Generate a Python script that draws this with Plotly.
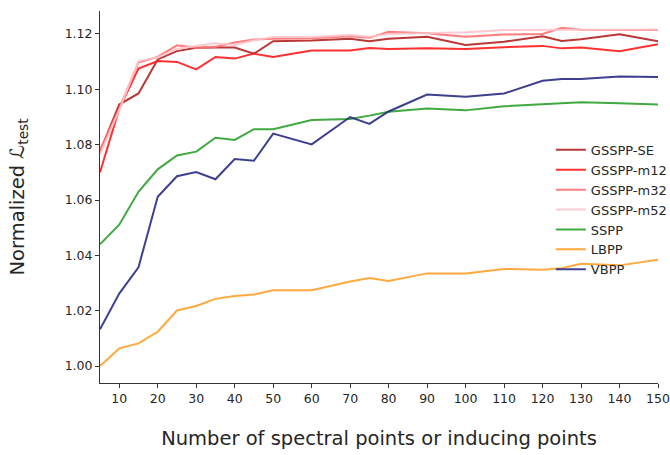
import plotly.graph_objects as go

# Number of spectral / inducing points
n_points = [5, 10, 15, 20, 25, 30, 35, 40, 45, 50, 60, 70, 75, 80, 90, 100, 110, 120, 125, 130, 140, 150]

# Normalized test loss per method
gsspp_se = [1.0775, 1.0945, 1.0985, 1.1108, 1.1138, 1.1150, 1.1151, 1.1151, 1.1129, 1.1174,
            1.1176, 1.1183, 1.1174, 1.1183, 1.1190, 1.1160, 1.1172, 1.1192, 1.1175, 1.1181, 1.1199, 1.1174]
gsspp_m12 = [1.0700, 1.0930, 1.1075, 1.1102, 1.1099, 1.1072, 1.1117, 1.1111, 1.1129, 1.1117,
             1.1140, 1.1140, 1.1149, 1.1146, 1.1148, 1.1146, 1.1152, 1.1157, 1.1148, 1.1151, 1.1138, 1.1163]
gsspp_m32 = [1.0780, 1.0930, 1.1097, 1.1117, 1.1159, 1.1150, 1.1153, 1.1169, 1.1180, 1.1183,
             1.1185, 1.1192, 1.1186, 1.1208, 1.1203, 1.1190, 1.1198, 1.1200, 1.1222, 1.1215, 1.1214, 1.1214]
gsspp_m52 = [1.0765, 1.0925, 1.1102, 1.1115, 1.1147, 1.1156, 1.1166, 1.1160, 1.1177, 1.1189,
             1.1189, 1.1196, 1.1190, 1.1200, 1.1202, 1.1206, 1.1214, 1.1215, 1.1213, 1.1214, 1.1215, 1.1216]
sspp = [1.0440, 1.0511, 1.0630, 1.0711, 1.0761, 1.0775, 1.0825, 1.0817, 1.0856, 1.0856,
        1.0889, 1.0893, 1.0905, 1.0919, 1.0931, 1.0924, 1.0939, 1.0945, 1.0949, 1.0953, 1.0950, 1.0945]
lbpp = [1.0000, 1.0064, 1.0082, 1.0124, 1.0201, 1.0217, 1.0243, 1.0253, 1.0259, 1.0274,
        1.0274, 1.0306, 1.0318, 1.0308, 1.0335, 1.0335, 1.0351, 1.0348, 1.0354, 1.0370, 1.0364, 1.0384]
vbpp = [1.0133, 1.0262, 1.0357, 1.0612, 1.0686, 1.0701, 1.0675, 1.0748, 1.0742, 1.0840,
        1.0801, 1.0900, 1.0875, 1.0920, 1.0981, 1.0973, 1.0985, 1.1031, 1.1037, 1.1037, 1.1046, 1.1045]

series = [
    ("GSSPP-SE", gsspp_se, "#b22222"),
    ("GSSPP-m12", gsspp_m12, "#ff1a1a"),
    ("GSSPP-m32", gsspp_m32, "#ff6f6f"),
    ("GSSPP-m52", gsspp_m52, "#ffc4ca"),
    ("SSPP", sspp, "#2ca02c"),
    ("LBPP", lbpp, "#ffa02a"),
    ("VBPP", vbpp, "#2b2b83"),
]

x_ticks = list(range(10, 151, 10))
y_ticks = [1.00, 1.02, 1.04, 1.06, 1.08, 1.10, 1.12]

fig = go.Figure()
for name, vals, color in series:
    fig.add_trace(go.Scatter(
        x=n_points, y=vals, mode="lines", name=name,
        line=dict(color=color, width=2), opacity=0.9,
    ))

font_family = "DejaVu Sans"
axis_color = "#333333"
text_color = "#262626"

fig.update_layout(
    width=670, height=455,
    margin=dict(l=100, r=12, t=11, b=72, autoexpand=False),
    paper_bgcolor="white", plot_bgcolor="white",
    font=dict(family=font_family, size=13, color=text_color),
    showlegend=True,
    legend=dict(
        x=0.808, y=0.667, xanchor="left", yanchor="top",
        bgcolor="rgba(0,0,0,0)", borderwidth=0,
        font=dict(size=13, color=text_color),
        tracegroupgap=0, itemwidth=30,
    ),
    xaxis=dict(
        range=[5, 150], tickvals=x_ticks, ticktext=[str(v) for v in x_ticks],
        showgrid=False, zeroline=False, automargin=False,
        showline=True, linecolor=axis_color, linewidth=1,
        ticks="outside", ticklen=4, tickcolor=axis_color,
        tickfont=dict(size=12.5),
        title=dict(text="Number of spectral points or inducing points",
                   font=dict(size=19.5, color=text_color), standoff=26),
    ),
    yaxis=dict(
        range=[0.9939, 1.1283], tickvals=y_ticks, ticktext=[f"{v:.2f}" for v in y_ticks],
        showgrid=False, zeroline=False, automargin=False,
        showline=True, linecolor=axis_color, linewidth=1,
        ticks="outside", ticklen=4, tickcolor=axis_color,
        tickfont=dict(size=12.5),
        title=dict(text="Normalized <i>ℒ</i><sub>test</sub>",
                   font=dict(size=19.5, color=text_color), standoff=34),
    ),
)

fig.write_html("out.html")
